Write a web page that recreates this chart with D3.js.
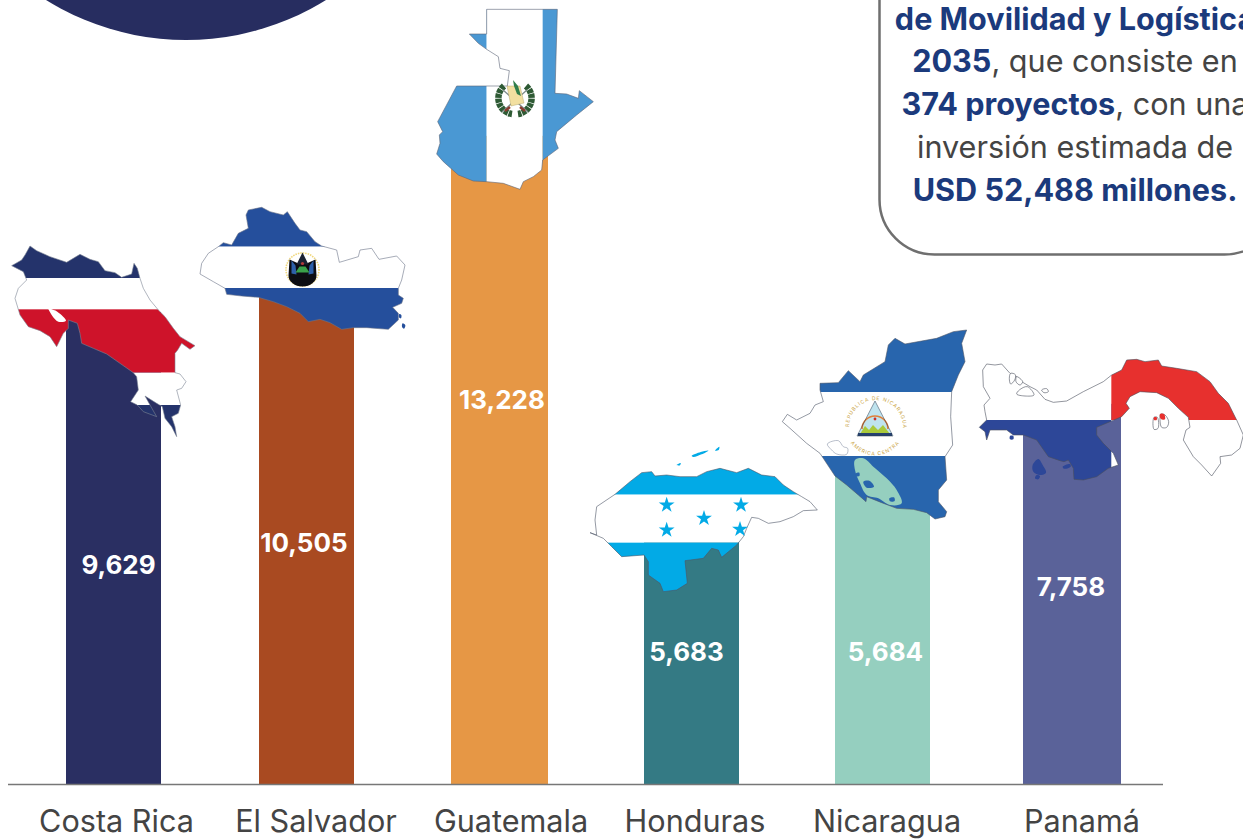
<!DOCTYPE html>
<html><head><meta charset="utf-8">
<script src="https://cdn.jsdelivr.net/npm/d3@7/dist/d3.min.js"></script>
<style>html,body{margin:0;padding:0;background:#fff;overflow:hidden}svg{display:block}text{font-family:Inter,"Noto Sans",sans-serif}</style>
</head><body><svg id="c" width="1243" height="840"></svg>
<script>
// ---- data ----
const categories = ["Costa Rica","El Salvador","Guatemala","Honduras","Nicaragua","Panamá"];
const values = [9629,10505,13228,5683,5684,7758];
// The source bars are not strictly to scale: Nicaragua is drawn taller than Honduras despite an almost equal value.
const drawnLengths = [9629,10505,13228,5683,6400,7758];
const barColors = ["#2a2f62","#a94a21","#e69745","#347a84","#95cfbf","#5a6299"];

// ---- layout ----
const W=1243,H=840,base=784;
const x=d3.scaleBand().domain(categories).range([18,1170]).paddingInner(.5).paddingOuter(.25);
const y=d3.scaleLinear().domain([0,14000]).range([base,base-686]);
const valueLevels=[4470,4918,7837,2694,2694,4020];
const valueDx=[4.5,-2,4,-3.5,3.5,-3];
const tickDx=[2.5,10,13,5,5,8];
const barDx=[0,1,1,2,1,-3], barExtra=[-1,-1,1,-1,-1,2];
const svg=d3.select("#c");
const line=d3.line().curve(d3.curveLinear);
const defs=svg.append("defs");

// corner circle
svg.append("circle").attr("cx",186).attr("cy",-225).attr("r",265).attr("fill","#272d60");

// bars
svg.selectAll("rect.bar").data(categories).join("rect").attr("class","bar")
 .attr("x",(d,i)=>x(d)+barDx[i]).attr("width",(d,i)=>x.bandwidth()+barExtra[i])
 .attr("y",(d,i)=>y(drawnLengths[i])).attr("height",(d,i)=>base-y(drawnLengths[i]))
 .attr("fill",(d,i)=>barColors[i]);

// axis
const axis=svg.append("g").attr("transform",`translate(0,${base})`).call(d3.axisBottom(x).tickSize(0).tickPadding(26));
axis.select(".domain").remove();
axis.selectAll("text").attr("font-size",30.6).attr("fill","#444").style("font-family","Inter")
  .attr("dx",(d,i)=>tickDx[i]);
svg.append("line").attr("x1",8).attr("x2",1163).attr("y1",base+.5).attr("y2",base+.5).attr("stroke","#777").attr("stroke-width",1.4);

// map silhouettes (decorative outlines, zoom coordinates)
function shape(id,pts,ox,oy,bands,stroke){
  const p=pts.map(d=>[d[0]/3+ox,d[1]/3+oy]);
  const cp=defs.append("clipPath").attr("id",id);
  cp.append("path").attr("d",line(p)+"Z");
  const g=svg.append("g").attr("clip-path",`url(#${id})`);
  bands.forEach(b=>g.append("rect").attr("x",b[0]/3+ox).attr("y",b[1]/3+oy).attr("width",(b[2]-b[0])/3).attr("height",(b[3]-b[1])/3).attr("fill",b[4]));
  svg.append("path").attr("d",line(p)+"Z").attr("fill","none").attr("stroke",stroke||"#7c8494").attr("stroke-width",.6);
  return g;
}
function blob(pts,ox,oy,fill,stroke){
  svg.append("path").attr("d",d3.line().curve(d3.curveCatmullRomClosed)(pts.map(d=>[d[0]/3+ox,d[1]/3+oy])))
    .attr("fill",fill).attr("stroke",stroke||"none").attr("stroke-width",.6);
}

// Costa Rica
shape("cr",[[35,197],[65,180],[75,165],[90,138],[110,152],[150,170],[200,187],[240,163],[270,178],[295,185],[315,212],[345,218],[365,232],[395,222],[402,190],[412,205],[420,235],[430,265],[450,300],[475,330],[495,350],[520,385],[540,410],[565,425],[585,437],[570,448],[545,430],[533,450],[525,460],[525,518],[540,522],[558,545],[545,565],[530,570],[542,615],[535,640],[515,650],[525,680],[530,710],[515,680],[495,655],[487,620],[470,610],[435,588],[450,615],[470,650],[430,635],[412,615],[392,605],[415,570],[410,530],[400,518],[360,490],[320,462],[280,445],[245,430],[240,400],[232,370],[205,360],[205,385],[190,400],[170,440],[150,410],[120,392],[85,380],[60,345],[45,295],[55,265],[80,240],[70,215]],0,200,
 [[0,0,700,234,"#24336b"],[0,234,700,328,"#fff"],[0,328,700,518,"#ce132a"],[0,518,700,615,"#fff"],[0,615,700,800,"#24336b"]]);
blob([[132,298],[150,325],[172,335],[198,362],[175,365],[155,345]],0,200,"#fff");

// El Salvador
shape("es",[[600,222],[605,190],[625,160],[655,140],[670,128],[695,135],[715,100],[745,85],[738,45],[745,30],[785,22],[810,35],[850,45],[862,35],[885,70],[900,90],[920,95],[945,125],[965,138],[1010,150],[1018,187],[1075,170],[1080,150],[1115,145],[1137,178],[1190,168],[1215,195],[1205,240],[1195,265],[1195,285],[1210,295],[1205,310],[1178,322],[1195,340],[1195,360],[1165,388],[1100,383],[1060,383],[1025,388],[990,368],[960,358],[925,365],[900,340],[860,320],[820,305],[775,292],[725,288],[680,283],[675,265],[640,245]],0,200,
 [[500,0,1300,140,"#254f9c"],[500,140,1300,264,"#fff"],[500,264,1300,500,"#254f9c"]],"#6c7488");
blob([[1198,342],[1204,345],[1203,355],[1197,352]],0,200,"#254f9c");
blob([[1208,370],[1216,376],[1212,386],[1206,380]],0,200,"#254f9c");
const es=svg.append("g").attr("transform","translate(302.5,269.5)");
es.append("circle").attr("r",16.5).attr("fill","none").attr("stroke","#f0d77c").attr("stroke-width",1.6).attr("stroke-dasharray","1.5 1");
es.append("path").attr("d","M-13,-10L-4,-6L4,-6L13,-10L14,6A14,11 0 0 1 -14,6Z").attr("fill","#0d0d12");
es.append("path").attr("d","M-11,-9L-7,-4L-6,5L-11,4Z M11,-9L7,-4L6,5L11,4Z").attr("fill","#2d5fa8");
es.append("path").attr("d","M0,-17L6,-5L-6,-5Z").attr("fill","#1b2233");
es.append("circle").attr("cy",-6).attr("r",1.6).attr("fill","#b23a3a");
es.append("path").attr("d","M-7,3L-3,-3L3,-3L7,3Z").attr("fill","#3aa14a");

// Guatemala
shape("gu",[[200,28],[412,28],[405,280],[440,282],[475,295],[478,272],[520,305],[470,345],[410,395],[405,420],[415,445],[368,480],[365,510],[340,530],[310,545],[300,568],[250,550],[200,545],[160,543],[115,525],[70,485],[50,462],[60,430],[58,405],[68,395],[53,365],[110,258],[262,258],[268,212],[240,205],[235,170],[200,148],[175,130],[148,102],[200,102]],420,0,
 [[0,0,200,600,"#4a98d3"],[200,0,368,600,"#fff"],[368,0,600,600,"#4a98d3"]],"#5d6577");
const gu=svg.append("g").attr("transform","translate(515,98)");
gu.append("path").attr("d","M-11,-12A16,16 0 0 0 -3,16M11,-12A16,16 0 0 1 3,16").attr("fill","none").attr("stroke","#2e5a34").attr("stroke-width",6.5).attr("stroke-dasharray","4 .7");
gu.append("path").attr("d","M-13,14L12,-8M13,14L-12,-8").attr("stroke","#7d8a8a").attr("stroke-width",1.3);
gu.append("path").attr("d","M-8,-12L5,-12L9,5L-4,8Z").attr("fill","#f2dfa0").attr("stroke","#a89a5c").attr("stroke-width",.4);
gu.append("path").attr("d","M-10,13L-5,9M10,13L5,9").attr("stroke","#8a3a2e").attr("stroke-width",2.4);
gu.append("path").attr("d","M-2,-18L3,-12L6,-2L2,-4L-1,-12Z").attr("fill","#2f7d4a");

// Honduras
shape("ho",[[30,638],[50,645],[45,600],[50,560],[105,523],[150,485],[185,458],[215,455],[225,468],[260,465],[300,470],[350,470],[380,455],[420,445],[470,458],[505,445],[545,465],[585,470],[610,495],[640,515],[665,530],[690,545],[712,570],[670,572],[640,590],[600,605],[565,610],[535,595],[515,592],[500,625],[490,650],[470,675],[425,712],[415,690],[395,685],[370,715],[315,722],[322,790],[290,810],[250,815],[240,790],[205,765],[205,725],[192,705],[125,710],[95,680],[70,655]],580,320,
 [[0,300,800,524,"#02aae6"],[0,524,800,668,"#fff"],[0,668,800,900,"#02aae6"]],"#4d5566");
const star=d3.symbol().type(d3.symbolStar).size(78)();
[[260,555],[483,555],[372,595],[260,630],[480,628]].forEach(s=>svg.append("path").attr("d",star).attr("fill","#02aae6").attr("transform",`translate(${s[0]/3+580},${s[1]/3+320})`));
blob([[335,408],[362,396],[385,392],[365,403],[340,411]],580,320,"#02aae6");
blob([[405,392],[418,380],[416,390]],580,320,"#02aae6");
blob([[290,435],[302,429],[300,436]],580,320,"#02aae6");

// Nicaragua
shape("ni",[[720,190],[775,188],[805,152],[840,185],[850,165],[915,125],[925,75],[945,55],[975,72],[1070,55],[1120,35],[1160,30],[1145,70],[1155,125],[1135,165],[1115,215],[1112,290],[1118,375],[1095,410],[1100,480],[1075,510],[1075,545],[1100,575],[1095,590],[1065,597],[1040,578],[1000,568],[950,565],[905,548],[860,530],[858,545],[835,525],[800,495],[765,468],[720,400],[680,370],[630,325],[607,305],[622,283],[650,300],[690,280],[705,255],[730,245],[720,210]],580,320,
 [[500,0,1300,216,"#2865ad"],[500,216,1300,408,"#fff"],[500,408,1300,700,"#2865ad"]],"#4d5566");
blob([[825,420],[850,415],[880,440],[920,475],[950,510],[965,550],[930,555],[895,535],[860,525],[840,490],[825,450]],580,320,barColors[4]);
blob([[850,485],[868,482],[882,500],[860,503]],580,320,"#2865ad");
blob([[828,460],[838,458],[838,468],[828,468]],580,320,"#2865ad");
blob([[928,535],[942,532],[944,543],[930,544]],580,320,"#2865ad");
blob([[742,372],[775,362],[790,380],[803,385],[800,403],[770,402],[755,390]],580,320,"#fff","#8a93a8");
const ni=svg.append("g").attr("transform","translate(875,423)");
ni.append("path").attr("d","M0,-22L18,13L-18,13Z").attr("fill","#bfe3ee");
ni.append("path").attr("d","M-13,6A13,13 0 0 1 13,6").attr("fill","none").attr("stroke","#e0803a").attr("stroke-width",1.6);
ni.append("path").attr("d","M-15,11L-10,3L-6,7L-2,2L3,7L8,2L15,11Z").attr("fill","#a9c93a");
ni.append("rect").attr("x",-17).attr("y",10).attr("width",34).attr("height",3).attr("fill","#25406e");
ni.append("path").attr("d","M0,-22L18,13L-18,13Z").attr("fill","none").attr("stroke","#2d3a4f").attr("stroke-width",.5);
ni.append("circle").attr("cy",-4).attr("r",1.4).attr("fill","#c9302c");
defs.append("path").attr("id","niTop").attr("d","M-26,4A27,27 0 0 1 28,4");
defs.append("path").attr("id","niBot").attr("d","M-22,18A27,27 0 0 0 22,18");
ni.append("text").attr("font-size",5).attr("fill","#c9a23d").attr("letter-spacing",.9).append("textPath").attr("href","#niTop").text("REPUBLICA DE NICARAGUA");
ni.append("text").attr("font-size",5).attr("fill","#c9a23d").attr("letter-spacing",.5).attr("dy",3).append("textPath").attr("href","#niBot").text("AMERICA CENTRAL");

// Panama
shape("pa",[[38,90],[50,72],[75,75],[95,72],[120,100],[140,110],[155,125],[180,140],[200,150],[225,178],[250,187],[290,183],[340,155],[400,125],[425,105],[455,90],[470,60],[500,58],[525,65],[565,60],[575,78],[620,85],[680,95],[720,125],[745,160],[775,190],[800,240],[820,285],[810,325],[785,345],[750,350],[752,370],[725,408],[695,375],[670,350],[640,300],[648,270],[660,262],[655,232],[625,205],[595,175],[560,158],[510,155],[480,170],[468,190],[478,205],[455,230],[420,245],[380,262],[380,285],[400,310],[430,340],[445,375],[415,385],[380,410],[340,420],[312,418],[310,385],[295,360],[282,365],[270,362],[235,350],[200,300],[160,285],[130,285],[110,270],[60,270],[50,300],[45,275],[28,262],[50,240],[45,215],[42,195],[60,175],[40,140]],970,340,
 [[0,0,424,240,"#fff"],[424,0,900,240,"#e7302e"],[0,240,424,500,"#2d4798"],[424,240,900,500,"#fff"]],"#4a4f5c");
blob([[205,357],[218,375],[228,398],[210,405],[190,395],[188,375]],970,340,"#2d4798");
blob([[200,405],[210,408],[205,418],[195,415]],970,340,"#2d4798");
blob([[278,380],[300,372],[302,380],[282,386]],970,340,"#2d4798");
blob([[120,288],[130,288],[130,298],[120,298]],970,340,"#2d4798");
blob([[572,222],[585,225],[596,245],[590,262],[575,262],[570,240]],970,340,"#fff","#4a4f5c");
blob([[570,222],[582,222],[585,238],[572,236]],970,340,"#e7302e");
blob([[552,232],[562,232],[564,265],[552,268]],970,340,"#fff","#4a4f5c");
blob([[552,232],[560,232],[560,240],[552,240]],970,340,"#e7302e");
blob([[215,150],[230,146],[235,155],[222,158]],970,340,"#fff","#4a4f5c");
blob([[122,100],[136,104],[134,120],[122,132],[118,115]],970,340,"#fff","#4a4f5c");
blob([[140,110],[158,125],[150,135],[138,125]],970,340,"#fff","#4a4f5c");
blob([[148,150],[172,140],[192,165],[165,168],[140,162]],970,340,"#fff","#4a4f5c");

// value labels
svg.selectAll("text.val").data(values).join("text").attr("class","val")
 .attr("x",(d,i)=>x(categories[i])+x.bandwidth()/2+valueDx[i])
 .attr("y",(d,i)=>y(valueLevels[i])).attr("dy","0.36em")
 .attr("text-anchor","middle").attr("fill","#fff").attr("font-weight",700).attr("font-size",26)
 .text(d=>d3.format(",")(d));

// note box
svg.append("rect").attr("x",879.5).attr("y",-100).attr("width",400).attr("height",354.5).attr("rx",55)
 .attr("fill","#fff").attr("stroke","#6f6f6f").attr("stroke-width",2.5);
const noteLines=[[["de Movilidad y Logística",1]],[["2035",1],[", que consiste en",0]],[["374 proyectos",1],[", con una",0]],[["inversión estimada de",0]],[["USD 52,488 millones.",1]]];
const baselines=d3.range(5).map(i=>29.5+i*42.8);
noteLines.forEach((ln,i)=>{
 const t=svg.append("text").attr("x",1075).attr("y",baselines[i]).attr("text-anchor","middle").attr("font-size",30.6);
 ln.forEach(s=>t.append("tspan").text(s[0]).attr("font-weight",s[1]?700:400).attr("fill",s[1]?"#1b3a7c":"#444"));
});
</script></body></html>
